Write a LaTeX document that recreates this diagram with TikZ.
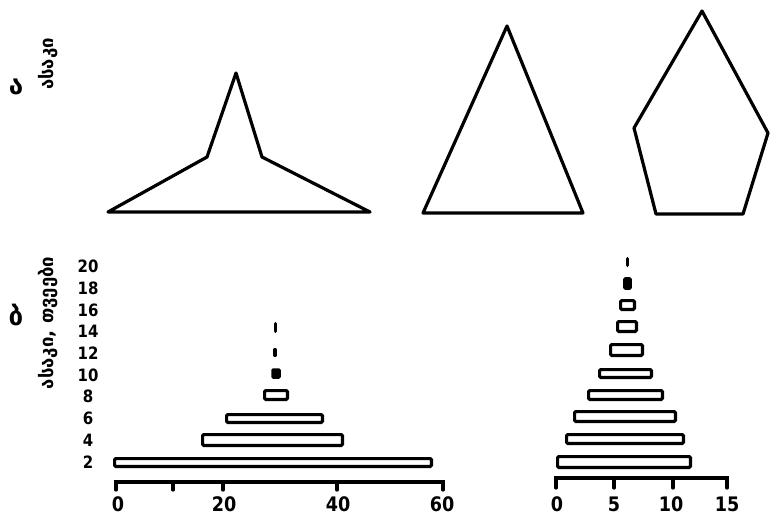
\documentclass[tikz,border=0pt]{standalone}
\usepackage{fontspec}
\newfontfamily\geofnt{DejaVu Sans}
\newfontfamily\numfnt[FakeStretch=0.88]{DejaVu Sans}
\tikzset{
  shape line/.style={line width=3.2pt, line join=round, line cap=round},
  barbox/.style={line width=3.2pt, rounded corners=1.2pt},
  axisline/.style={line width=3.2pt, line cap=round},
  panellab/.style={font=\geofnt\bfseries\fontsize{26}{26}\selectfont, inner sep=0pt},
  axlab/.style={font=\geofnt\bfseries\fontsize{18.5}{18.5}\selectfont, inner sep=0pt, rotate=90},
  ynum/.style={font=\numfnt\bfseries\fontsize{17}{17}\selectfont, inner sep=0pt},
  xnum/.style={font=\numfnt\bfseries\fontsize{20}{20}\selectfont, inner sep=0pt}
}
\newcommand\pbar[4]{\draw[barbox] ({#1+1.6},{#3+1.6}) rectangle ({#2-1.6},{#4-1.6});}
\newcommand\pstick[3]{\draw[line width=3.3pt, line cap=round] (#1,{#2+1.6}) -- (#1,{#3-1.6});}
\begin{document}
\begin{tikzpicture}[x=1pt,y=-1pt]
\useasboundingbox (0,0) rectangle (770,515);
% ---- panel a: shapes
\draw[shape line] (108,212) -- (207,157) -- (236,73) -- (262,157) -- (370,212) -- cycle;
\draw[shape line] (423,213) -- (507,26) -- (583,213) -- cycle;
\draw[shape line] (702,11) -- (768,133) -- (743,214) -- (656,214) -- (634,128) -- cycle;
% ---- labels
\node[panellab] (la) at (16,87) {ა};
\node[axlab] (ya) at (48,64) {ასაკი};
\node[panellab] (lb) at (16,315) {ბ};
\node[axlab] (yb) at (48,323) {ასაკი, თვეები};
% y numbers
\foreach \v/\yy in {20/266,18/288,16/310,14/331,12/353,10/375,8/396,6/418,4/440,2/462}
  \node[ynum] (y\v) at (88,\yy) {\v};
% ---- left pyramid
\pbar{113}{433}{457}{468}
\pbar{201}{344}{433}{447}
\pbar{225}{324}{413}{424}
\pbar{263}{289}{389}{401}
\draw[line width=2.5pt, rounded corners=1pt, fill=black] (272.5,369.5) rectangle (279.5,377.5);
\pstick{275}{348}{357}
\pstick{275.5}{322}{333}
% axis
\draw[axisline] (116,490) -- (116,482) -- (443,482) -- (443,490);
\foreach \xx in {173,223,337} \draw[axisline] (\xx,482) -- (\xx,490);
\node[xnum] (x0) at (118,504) {0};
\node[xnum] (x20) at (224,504) {20};
\node[xnum] (x40) at (338,504) {40};
\node[xnum] (x60) at (442,504) {60};
% ---- right pyramid
\pbar{556}{692}{455}{469}
\pbar{565}{685}{433}{445}
\pbar{573}{677}{410}{423}
\pbar{587}{664}{389}{401}
\pbar{598}{653}{368}{379}
\pbar{609}{644}{343}{357}
\pbar{616}{638}{320}{333}
\pbar{619}{636}{299}{311}
\draw[line width=2.6pt, rounded corners=1pt, fill=black] (624.5,278.5) rectangle (630.5,288.5);
\pstick{627.5}{257}{267}
% axis
\draw[axisline] (556,488) -- (556,478) -- (727,478) -- (727,488);
\foreach \xx in {614,673} \draw[axisline] (\xx,478) -- (\xx,488);
\node[xnum] (r0) at (557,504) {0};
\node[xnum] (r5) at (614,504) {5};
\node[xnum] (r10) at (671,504) {10};
\node[xnum] (r15) at (727,504) {15};
\end{tikzpicture}
\end{document}
